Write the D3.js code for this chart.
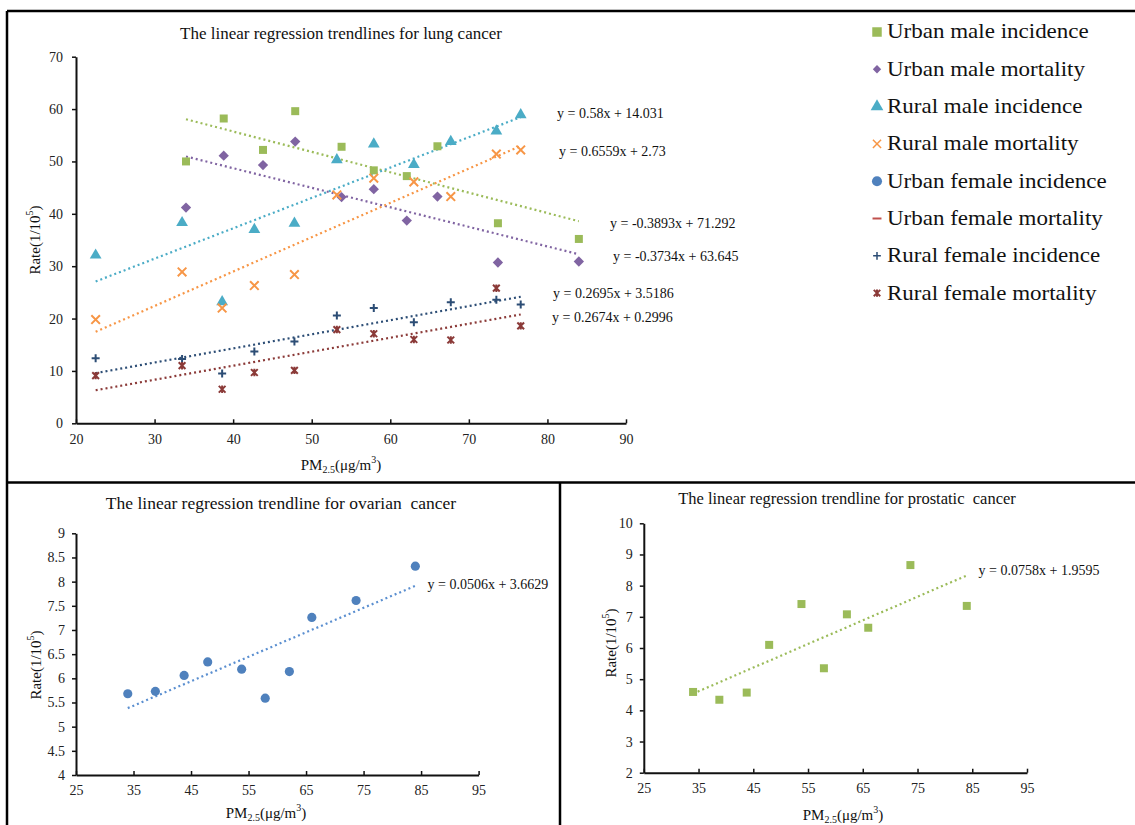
<!DOCTYPE html>
<html>
<head>
<meta charset="utf-8">
<script src="https://cdn.jsdelivr.net/npm/d3@7"></script>
<style>
  body { margin: 0; background: #fff; }
  svg { display: block; font-family: 'Liberation Serif', 'Times New Roman', serif; }
  .axis .domain { stroke: #111; stroke-width: 2; }
  .axis .tick line { stroke: #111; stroke-width: 1.5; }
  .axis .tick text { font-family: 'Liberation Serif', serif; font-size: 14px; fill: #222; }
  .frame line { stroke: #000; stroke-width: 2.5; }
  .title { white-space: pre; }
</style>
</head>
<body>
<svg id="chart" width="1135" height="825"></svg>
<script>
// PM2.5 of the cities (x values)
const urbanPM = [34.0, 38.8, 43.8, 47.9, 53.8, 57.9, 62.1, 66.0, 73.7, 84.0]
const ruralPM = [22.5, 33.5, 38.6, 42.7, 47.8, 53.2, 57.9, 63.0, 67.7, 73.5, 76.6]

// lung cancer rates (1/10^5)
const urbanMaleIncidence = [50.0, 58.2, 52.2, 59.6, 52.8, 48.3, 47.2, 52.9, 38.2, 35.2]
const urbanMaleMortality = [41.2, 51.1, 49.3, 53.8, 43.2, 44.7, 38.7, 43.3, 30.7, 30.9]
const ruralMaleIncidence = [32.1, 38.3, 23.2, 37.0, 38.2, 50.3, 53.3, 49.4, 53.8, 55.8, 58.9]
const ruralMaleMortality = [19.8, 28.9, 22.0, 26.3, 28.4, 43.6, 46.8, 46.1, 43.3, 51.4, 52.2]
const ruralFemaleIncidence = [12.4, 12.3, 9.5, 13.7, 15.6, 20.6, 22.0, 19.3, 23.1, 23.6, 22.7]
const ruralFemaleMortality = [9.1, 11.0, 6.5, 9.7, 10.1, 17.9, 17.1, 16.0, 15.9, 25.8, 18.6]

// trendline coefficients [slope, intercept]
const lungSlopes = [-0.3893, -0.3734, 0.58, 0.6559, 0.2695, 0.2674]
const lungIntercepts = [71.292, 63.645, 14.031, 2.73, 3.5186, 0.2996]

const ovarianRate = [5.68, 5.73, 6.06, 6.34, 6.19, 5.59, 6.14, 7.26, 7.61, 8.32]
const ovarianFit = [0.0506, 3.6629]
const prostaticRate = [4.59, 4.34, 4.57, 6.10, 7.41, 5.35, 7.08, 6.65, 8.66, 7.35]
const prostaticFit = [0.0758, 1.9595]

const legendNames = ['Urban male incidence', 'Urban male mortality', 'Rural male incidence', 'Rural male mortality',
  'Urban female incidence', 'Urban female mortality', 'Rural female incidence', 'Rural female mortality']

const lungXTicks = [20, 30, 40, 50, 60, 70, 80, 90]
const lungYTicks = [0, 10, 20, 30, 40, 50, 60, 70]
const smallXTicks = [25, 35, 45, 55, 65, 75, 85, 95]
const ovarianYTicks = [4, 4.5, 5, 5.5, 6, 6.5, 7, 7.5, 8, 8.5, 9]
const prostaticYTicks = [2, 3, 4, 5, 6, 7, 8, 9, 10]

const symbolDash = { draw(ctx, size) { const r = Math.sqrt(size) / 2; ctx.moveTo(-r, 0); ctx.lineTo(r, 0) } }
const symbolRhomb = { draw(ctx, size) {
  const r = Math.sqrt(size) / 1.6
  ctx.moveTo(0, -r); ctx.lineTo(r, 0); ctx.lineTo(0, r); ctx.lineTo(-r, 0); ctx.closePath()
} }
const symbolCross = { draw(ctx, size) {
  const r = Math.sqrt(size) / 2
  ctx.moveTo(-r, 0); ctx.lineTo(r, 0); ctx.moveTo(0, -r); ctx.lineTo(0, r)
} }
const symbolStar = { draw(ctx, size) {
  const r = Math.sqrt(size) / 2.3
  ctx.moveTo(-r, -r); ctx.lineTo(r, r); ctx.moveTo(-r, r); ctx.lineTo(r, -r)
  ctx.moveTo(0, -r * 1.1); ctx.lineTo(0, r * 1.1)
} }

const markers = [
  { type: d3.symbolSquare, size: 64, color: '#9BBB59', line: '#9BBB59' },
  { type: symbolRhomb, size: 68, color: '#8064A2', line: '#8064A2' },
  { type: d3.symbolTriangle, size: 60, color: '#4BACC6', line: '#4BACC6' },
  { type: d3.symbolTimes, size: 50, color: '#F79646', line: '#F79646', stroke: true },
  { type: d3.symbolCircle, size: 66, color: '#4F81BD', line: '#5B8FD0' },
  { type: symbolDash, size: 90, color: '#C0504D', line: '#C0504D', stroke: true },
  { type: symbolCross, size: 64, color: '#2C4D75', line: '#2C4D75', stroke: true },
  { type: symbolStar, size: 60, color: '#8B3A38', line: '#8B3A38', stroke: true }
]

const svg = d3.select('#chart')

svg.append('g').attr('class', 'frame')
  .selectAll('line')
  .data([[7, 11, 1135, 11], [7, 11, 7, 825], [7, 482.5, 1135, 482.5], [560, 482.5, 560, 825]])
  .join('line')
    .attr('x1', d => d[0]).attr('y1', d => d[1]).attr('x2', d => d[2]).attr('y2', d => d[3])

function rateLabel(text) {
  text.text('Rate(1/10')
  text.append('tspan').attr('font-size', '10px').attr('dy', -6).text('5')
  text.append('tspan').attr('dy', 6).text(')')
}

function pmLabel(text) {
  text.text('PM')
  text.append('tspan').attr('font-size', '10px').attr('dy', 4).text('2.5')
  text.append('tspan').attr('dy', -4).text('(μg/m')
  text.append('tspan').attr('font-size', '10px').attr('dy', -6).text('3')
  text.append('tspan').attr('dy', 6).text(')')
}

function drawPanel(cfg) {
  const x = d3.scaleLinear().domain(cfg.xDomain).range(cfg.xRange)
  const y = d3.scaleLinear().domain(cfg.yDomain).range(cfg.yRange)
  const g = svg.append('g').attr('class', cfg.name)

  g.append('g').attr('class', 'axis x')
    .attr('transform', `translate(0,${cfg.yRange[0]})`)
    .call(d3.axisBottom(x).tickValues(cfg.xTicks).tickSizeInner(-4).tickSizeOuter(0).tickPadding(cfg.xPad))
  g.append('g').attr('class', 'axis y')
    .attr('transform', `translate(${cfg.xRange[0]},0)`)
    .call(d3.axisLeft(y).tickValues(cfg.yTicks).tickFormat(d => d).tickSizeInner(4).tickSizeOuter(0).tickPadding(cfg.yPad))

  g.append('text')
    .attr('class', 'title')
    .attr('x', cfg.title.x).attr('y', cfg.title.y)
    .attr('text-anchor', 'middle').attr('dominant-baseline', 'central')
    .attr('font-size', cfg.title.size).attr('fill', '#111')
    .text(cfg.title.text)
  g.append('text')
    .attr('transform', `translate(${cfg.yLabel[0]},${cfg.yLabel[1]}) rotate(-90)`)
    .attr('text-anchor', 'middle').attr('dominant-baseline', 'central')
    .attr('font-size', '15px').attr('fill', '#111')
    .call(rateLabel)
  g.append('text')
    .attr('x', cfg.xLabel[0]).attr('y', cfg.xLabel[1])
    .attr('text-anchor', 'middle').attr('dominant-baseline', 'central')
    .attr('font-size', '15px').attr('fill', '#111')
    .call(pmLabel)

  // trendlines under the markers
  g.append('g').attr('class', 'trendlines')
    .selectAll('line')
    .data(cfg.series)
    .join('line')
      .attr('x1', s => x(d3.min(s.x))).attr('y1', s => y(s.fit[0] * d3.min(s.x) + s.fit[1]))
      .attr('x2', s => x(d3.max(s.x))).attr('y2', s => y(s.fit[0] * d3.max(s.x) + s.fit[1]))
      .attr('stroke', s => s.marker.line)
      .attr('stroke-width', 2.2)
      .attr('stroke-dasharray', '2 3')

  g.append('g').attr('class', 'equations')
    .selectAll('text')
    .data(cfg.series)
    .join('text')
      .attr('x', (s, i) => cfg.eqPos[i][0]).attr('y', (s, i) => cfg.eqPos[i][1])
      .attr('dominant-baseline', 'central')
      .attr('font-size', '14px').attr('fill', '#111')
      .text(s => `y = ${s.fit[0]}x + ${s.fit[1]}`)

  g.append('g').attr('class', 'points')
    .selectAll('g')
    .data(cfg.series)
    .join('g')
    .each(function(s) {
      d3.select(this).selectAll('path')
        .data(s.x.map((v, i) => [v, s.y[i]]))
        .join('path')
          .attr('transform', d => `translate(${x(d[0])},${y(d[1])})`)
          .attr('d', d3.symbol(s.marker.type, s.marker.size))
          .attr('fill', s.marker.stroke ? 'none' : s.marker.color)
          .attr('stroke', s.marker.stroke ? s.marker.color : 'none')
          .attr('stroke-width', 2)
    })
}

drawPanel({
  name: 'lung',
  xDomain: [20, 90], xRange: [76, 626],
  yDomain: [0, 70], yRange: [423.3, 56.7],
  xTicks: lungXTicks, yTicks: lungYTicks, xPad: 11, yPad: 9,
  title: { text: 'The linear regression trendlines for lung cancer', x: 341, y: 33, size: '17px' },
  yLabel: [35, 240], xLabel: [341, 465],
  series: [
    { x: urbanPM, y: urbanMaleIncidence, fit: [lungSlopes[0], lungIntercepts[0]], marker: markers[0] },
    { x: urbanPM, y: urbanMaleMortality, fit: [lungSlopes[1], lungIntercepts[1]], marker: markers[1] },
    { x: ruralPM, y: ruralMaleIncidence, fit: [lungSlopes[2], lungIntercepts[2]], marker: markers[2] },
    { x: ruralPM, y: ruralMaleMortality, fit: [lungSlopes[3], lungIntercepts[3]], marker: markers[3] },
    { x: ruralPM, y: ruralFemaleIncidence, fit: [lungSlopes[4], lungIntercepts[4]], marker: markers[6] },
    { x: ruralPM, y: ruralFemaleMortality, fit: [lungSlopes[5], lungIntercepts[5]], marker: markers[7] }
  ],
  eqPos: [[610, 223], [613, 256], [557, 113], [559, 151], [553, 293], [552, 317]]
})

drawPanel({
  name: 'ovarian',
  xDomain: [25, 95], xRange: [76, 478.6],
  yDomain: [4, 9], yRange: [775, 533.3],
  xTicks: smallXTicks, yTicks: ovarianYTicks, xPad: 10, yPad: 7,
  title: { text: 'The linear regression trendline for ovarian  cancer', x: 281, y: 503, size: '17.5px' },
  yLabel: [36, 665], xLabel: [266, 813],
  series: [{ x: urbanPM, y: ovarianRate, fit: ovarianFit, marker: markers[4] }],
  eqPos: [[427.5, 584]]
})

drawPanel({
  name: 'prostatic',
  xDomain: [25, 95], xRange: [643.8, 1027],
  yDomain: [2, 10], yRange: [772.7, 523.3],
  xTicks: smallXTicks, yTicks: prostaticYTicks, xPad: 10, yPad: 7,
  title: { text: 'The linear regression trendline for prostatic  cancer', x: 847, y: 498, size: '16.5px' },
  yLabel: [611, 643], xLabel: [843, 815],
  series: [{ x: urbanPM, y: prostaticRate, fit: prostaticFit, marker: markers[0] }],
  eqPos: [[978.6, 570]]
})

// legend for the lung panel
const legendSizes = [90, 45, 70, 45, 80, 80, 60, 55]
svg.append('g')
  .attr('class', 'legend')
  .attr('transform', 'translate(877, 32)')
  .selectAll('g')
  .data(legendNames)
  .join('g')
    .attr('transform', (d, i) => `translate(0, ${i * 37.3})`)
  .call(g => g
    .append('path')
      .attr('d', (d, i) => d3.symbol(markers[i].type, legendSizes[i])())
      .attr('fill', (d, i) => markers[i].stroke ? 'none' : markers[i].color)
      .attr('stroke', (d, i) => markers[i].stroke ? markers[i].color : 'none')
      .attr('stroke-width', (d, i) => i === 3 || i === 6 ? 1.5 : 2))
  .call(g => g
    .append('text')
      .attr('transform', 'translate(10, 0) scale(1.15, 1)')
      .attr('dominant-baseline', 'central')
      .attr('font-size', '20px').attr('fill', '#111')
      .text(d => d))
</script>
</body>
</html>
